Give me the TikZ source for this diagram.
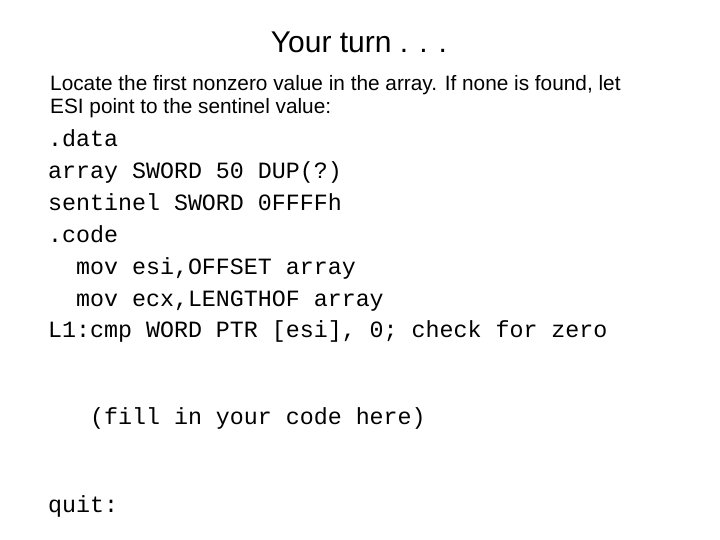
\documentclass[tikz,border=0pt]{standalone}
\usepackage{fontspec}
\setmainfont{Liberation Sans}
\setmonofont{Liberation Mono}
\begin{document}
\begin{tikzpicture}[x=1pt,y=-1pt,
  title/.style={anchor=base,inner sep=0pt,font=\fontsize{30}{34}\selectfont},
  body/.style={anchor=base west,inner sep=0pt,font=\fontsize{20.8}{24}\selectfont},
  code/.style={anchor=base west,inner sep=0pt,font=\ttfamily\fontsize{23.3}{27}\selectfont}]
\useasboundingbox[fill=white] (0,0) rectangle (720,540);
\node[title] (t) at (359,53) {Your turn . . .};
\node[body] (b1) at (50,91) {Locate the first nonzero value in the array. If none is found, let};
\node[body] (b2) at (50,114) {ESI point to the sentinel value:};
\node[code] (c1) at (48,147) {.data};
\node[code] (c2) at (48,179) {array SWORD 50 DUP(?)};
\node[code] (c3) at (48,211) {sentinel SWORD 0FFFFh};
\node[code] (c4) at (48,242) {.code};
\node[code] (c5) at (48,274) {\ \ mov esi,OFFSET array};
\node[code] (c6) at (48,306) {\ \ mov ecx,LENGTHOF array};
\node[code] (c7) at (48,337) {L1:cmp WORD PTR [esi], 0; check for zero};
\node[code] (c8) at (48,424) {\ \ \ (fill in your code here)};
\node[code] (c9) at (48,512) {quit:};
\end{tikzpicture}
\end{document}
